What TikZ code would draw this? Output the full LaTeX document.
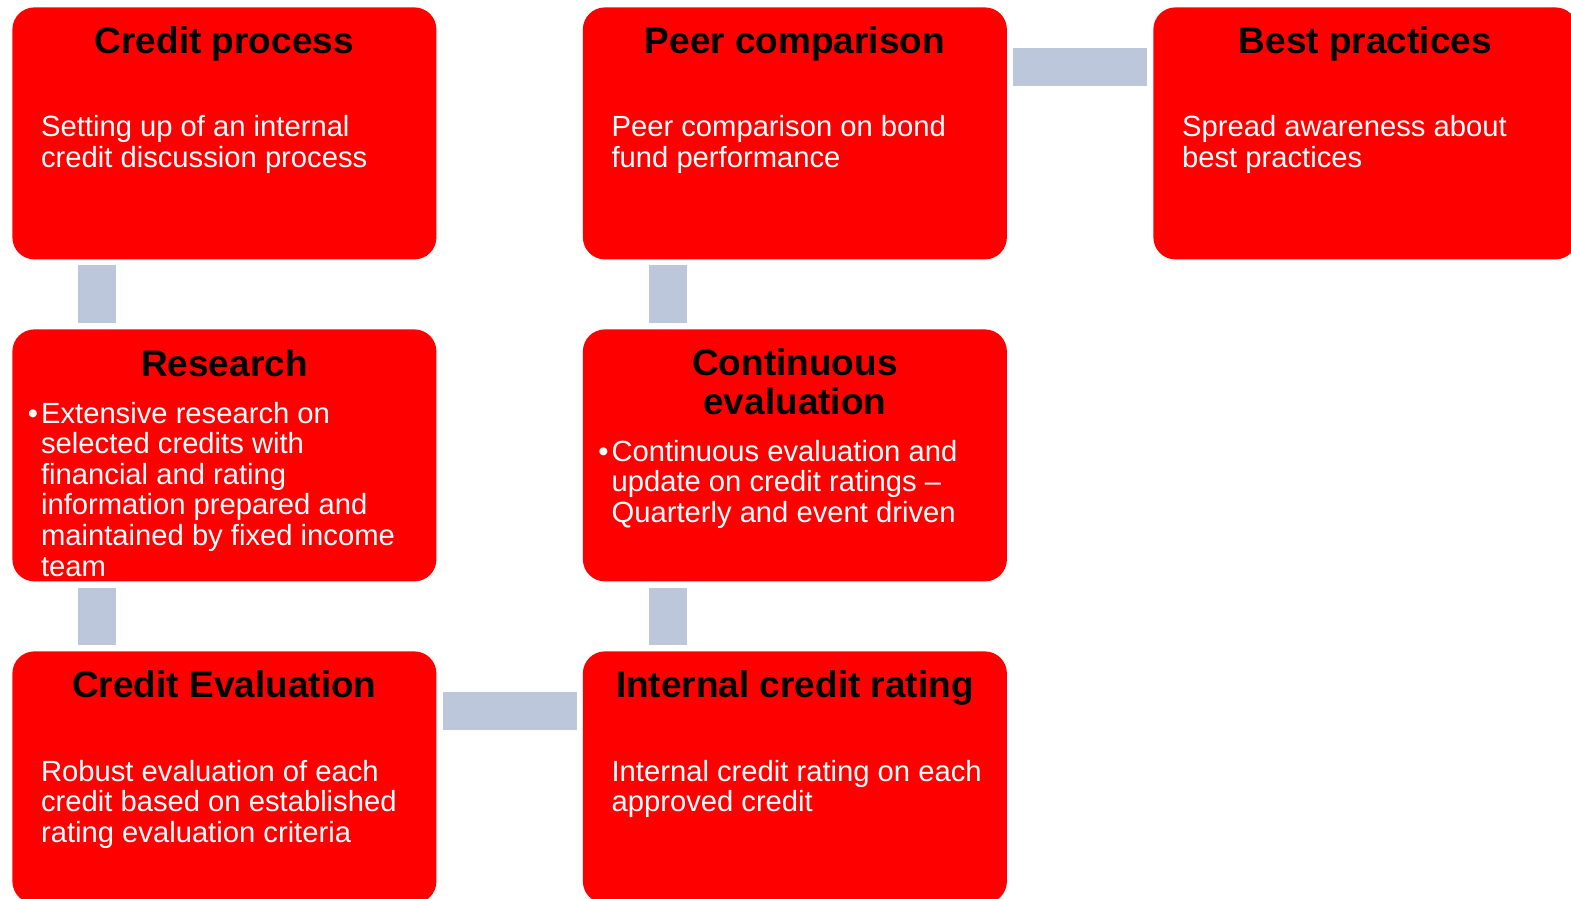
\documentclass[tikz,border=0pt]{standalone}
\usepackage{fontspec}
\setmainfont{Liberation Sans}
\definecolor{boxred}{RGB}{255,0,0}
\definecolor{connblue}{RGB}{189,199,220}
\begin{document}
\begin{tikzpicture}[x=0.5pt,y=-0.5pt,
  stagebox/.style={draw=none, fill=boxred, rounded corners=11pt, minimum width=212pt, minimum height=126pt, inner sep=0pt, anchor=north west},
  stagetitle/.style={inner sep=0pt, anchor=base, text=black, font=\fontsize{18.5}{19.5}\selectfont\bfseries},
  stagebody/.style={inner sep=0pt, anchor=base west, text=white, font=\fontsize{14.6}{15.3}\selectfont},
  conn/.style={draw=connblue, line width=19pt, line cap=butt, shorten <=2.85pt, shorten >=2.85pt}]
\useasboundingbox[fill=white] (0,0) rectangle (1571,899);

% boxes
\node[stagebox] (b1) at (12,7) {};
\node[stagebox] (b2) at (582.5,7) {};
\node[stagebox] (b3) at (1153,7) {};
\node[stagebox] (b4) at (12,329) {};
\node[stagebox] (b5) at (582.5,329) {};
\node[stagebox] (b6) at (12,651) {};
\node[stagebox] (b7) at (582.5,651) {};

% titles
\node[stagetitle] (t1) at ([yshift=-23.25pt]b1.north) {\parbox[t]{205pt}{\centering Credit process}};
\node[stagetitle] (t2) at ([yshift=-23.25pt]b2.north) {\parbox[t]{205pt}{\centering Peer comparison}};
\node[stagetitle] (t3) at ([yshift=-23.25pt]b3.north) {\parbox[t]{205pt}{\centering Best practices}};
\node[stagetitle] (t4) at ([yshift=-23.75pt]b4.north) {\parbox[t]{205pt}{\centering Research}};
\node[stagetitle] (t5) at ([yshift=-23.25pt]b5.north) {\parbox[t]{205pt}{\centering Continuous\\evaluation}};
\node[stagetitle] (t6) at ([yshift=-23.25pt]b6.north) {\parbox[t]{205pt}{\centering Credit Evaluation}};
\node[stagetitle] (t7) at ([yshift=-23.25pt]b7.north) {\parbox[t]{205pt}{\centering Internal credit rating}};

% bodies
\node[stagebody] (d1) at ([xshift=14.35pt,yshift=-65pt]b1.north west) {\parbox[t]{196pt}{\raggedright Setting up of an internal\\credit discussion process}};
\node[stagebody] (d2) at ([xshift=14.35pt,yshift=-65pt]b2.north west) {\parbox[t]{196pt}{\raggedright Peer comparison on bond\\fund performance}};
\node[stagebody] (d3) at ([xshift=14.35pt,yshift=-65pt]b3.north west) {\parbox[t]{196pt}{\raggedright Spread awareness about\\best practices}};
\node[stagebody] (d4) at ([xshift=14.35pt,yshift=-47pt]b4.north west) {\parbox[t]{196pt}{\raggedright\leavevmode\llap{•\hspace{1.5pt}}Extensive research on\\selected credits with\\financial and rating\\information prepared and\\maintained by fixed income\\team}};
\node[stagebody] (d5) at ([xshift=14.35pt,yshift=-66pt]b5.north west) {\parbox[t]{196pt}{\raggedright\leavevmode\llap{•\hspace{1.5pt}}Continuous evaluation and\\update on credit ratings –\\Quarterly and event driven}};
\node[stagebody] (d6) at ([xshift=14.35pt,yshift=-65pt]b6.north west) {\parbox[t]{196pt}{\raggedright Robust evaluation of each\\credit based on established\\rating evaluation criteria}};
\node[stagebody] (d7) at ([xshift=14.35pt,yshift=-65pt]b7.north west) {\parbox[t]{196pt}{\raggedright Internal credit rating on each\\approved credit}};

% connectors
\draw[conn] ([xshift=-63.5pt]b1.south) -- ([xshift=-63.5pt]b4.north);
\draw[conn] ([xshift=-63.5pt]b4.south) -- ([xshift=-63.5pt]b6.north);
\draw[conn] ([yshift=-29.75pt]b6.north east) -- ([yshift=-29.75pt]b7.north west);
\draw[conn] ([xshift=-63.5pt]b7.north) -- ([xshift=-63.5pt]b5.south);
\draw[conn] ([xshift=-63.5pt]b5.north) -- ([xshift=-63.5pt]b2.south);
\draw[conn] ([yshift=-30.25pt]b2.north east) -- ([yshift=-30.25pt]b3.north west);
\end{tikzpicture}
\end{document}
